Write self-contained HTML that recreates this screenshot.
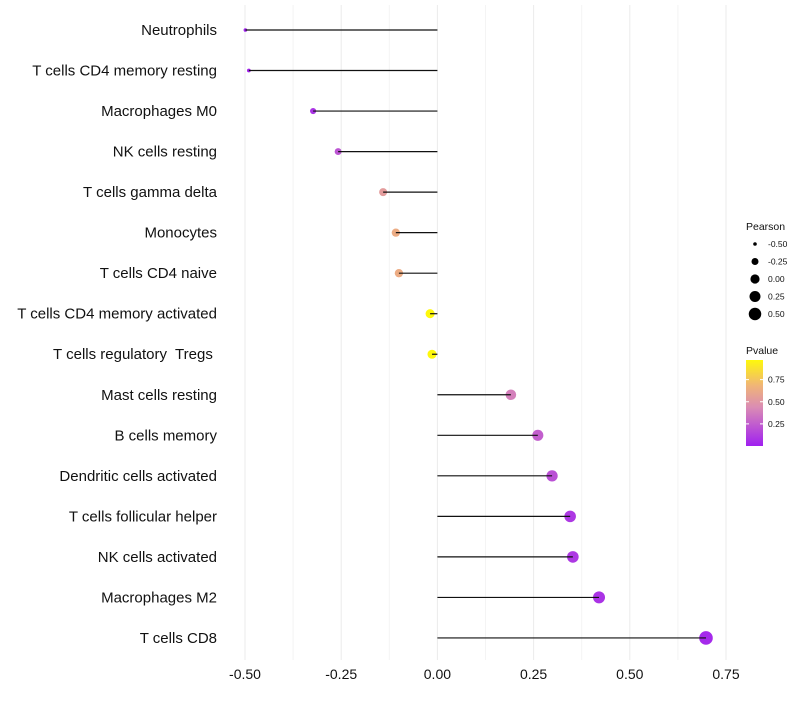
<!DOCTYPE html>
<html><head><meta charset="utf-8"><style>
body{margin:0;background:#fff;font-family:"Liberation Sans",sans-serif}
text{white-space:pre}
</style></head><body>
<svg id="c" width="800" height="700" xmlns="http://www.w3.org/2000/svg"></svg>
<script>
const categories=["Neutrophils","T cells CD4 memory resting","Macrophages M0","NK cells resting","T cells gamma delta","Monocytes","T cells CD4 naive","T cells CD4 memory activated","T cells regulatory  Tregs ","Mast cells resting","B cells memory","Dendritic cells activated","T cells follicular helper","NK cells activated","Macrophages M2","T cells CD8"];
const pearson=[-0.499,-0.49,-0.323,-0.258,-0.141,-0.108,-0.100,-0.019,-0.014,0.191,0.261,0.298,0.345,0.352,0.42,0.698];
const pvalue=[0.01,0.02,0.08,0.22,0.55,0.65,0.65,0.97,0.97,0.4,0.26,0.2,0.1,0.1,0.08,0.04];
const xTicks=[-0.5,-0.25,0,0.25,0.5,0.75];
const xTickLabels=["-0.50","-0.25","0.00","0.25","0.50","0.75"];
const sizeLegend=[-0.5,-0.25,0,0.25,0.5];
const sizeLegendLabels=["-0.50","-0.25","0.00","0.25","0.50"];
const pLegend=[0.75,0.5,0.25];
const pLegendLabels=["0.75","0.50","0.25"];

const svg=document.getElementById('c');const NS="http://www.w3.org/2000/svg";
function mk(t,a,p){const e=document.createElementNS(NS,t);for(const k in a)e.setAttribute(k,a[k]);(p||svg).appendChild(e);return e;}
const x=v=>437.4+v*384.8;
const y=i=>30+i*40.53;
const r=v=>Math.sqrt(Math.max(21.14+35.8*v,1));
function col(p){const s=[[0,[160,32,240]],[0.45,[218,140,180]],[0.7,[240,180,120]],[1,[255,255,0]]];
for(let i=0;i<s.length-1;i++){if(p<=s[i+1][0]){const t=(p-s[i][0])/(s[i+1][0]-s[i][0]);const c=s[i][1].map((a,j)=>Math.round(a+(s[i+1][1][j]-a)*t));return `rgb(${c})`;}}return 'rgb(255,255,0)';}
for(let v=-0.5;v<=0.751;v+=0.125){const g=mk('line',{x1:x(v),x2:x(v),y1:5,y2:660,stroke:Math.abs((v*4)%1)<1e-6?'#ebebeb':'#f4f4f4','stroke-width':1});
}
xTicks.forEach((v,i)=>{const t=mk('text',{x:x(v),y:679,'text-anchor':'middle','font-size':14,fill:'#111'});t.textContent=xTickLabels[i];
});
categories.forEach((c,i)=>{
const t=mk('text',{x:217,y:y(i)+5,'text-anchor':'end','font-size':15,fill:'#111'});t.textContent=c;

const d=mk('circle',{cx:x(pearson[i]),cy:y(i),r:r(pearson[i]),fill:col(pvalue[i])});

const l=mk('line',{x1:x(0),x2:x(pearson[i]),y1:y(i),y2:y(i),stroke:'#111','stroke-width':1.2});

});
let t=mk('text',{x:746,y:230,'font-size':10.5,fill:'#111'});t.textContent='Pearson';

sizeLegend.forEach((v,i)=>{const cy=244+i*17.5;const c=mk('circle',{cx:755,cy,r:r(v),fill:'#000'});

const l=mk('text',{x:768,y:cy+3,'font-size':8.5,fill:'#111'});l.textContent=sizeLegendLabels[i];
});
t=mk('text',{x:746,y:354,'font-size':10.5,fill:'#111'});t.textContent='Pvalue';

const defs=mk('defs',{});const gr=mk('linearGradient',{id:'g',x1:0,y1:1,x2:0,y2:0},defs);
[[0,0],[0.45,0.45],[0.7,0.7],[1,0.97]].forEach(([o,p])=>mk('stop',{offset:o,'stop-color':col(p)},gr));
const bar=mk('rect',{x:746,y:360,width:17,height:86,fill:'url(#g)'});

const py=p=>446-p*88.5;
pLegend.forEach((p,i)=>{mk('line',{x1:746,x2:749,y1:py(p),y2:py(p),stroke:'#fff'});mk('line',{x1:760,x2:763,y1:py(p),y2:py(p),stroke:'#fff'});
const l=mk('text',{x:768,y:py(p)+3,'font-size':8.5,fill:'#111'});l.textContent=pLegendLabels[i];
});
</script>
</body></html>
